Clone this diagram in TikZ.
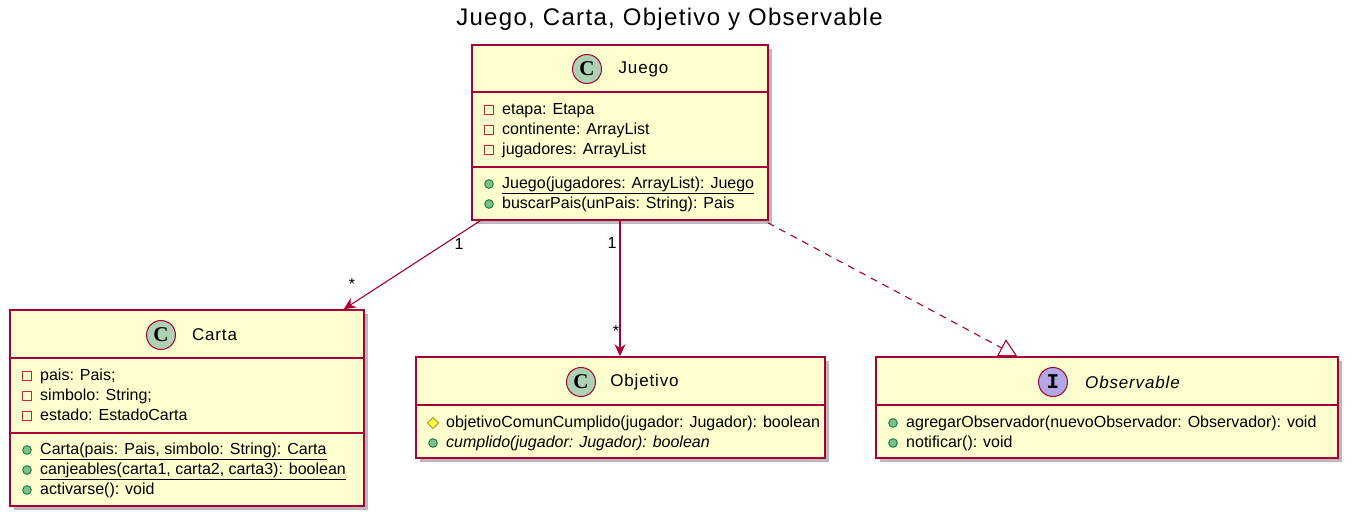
\documentclass[tikz,border=0pt]{standalone}
\usepackage{fontspec}
\setmainfont{Liberation Sans}
\newfontfamily\namefont[LetterSpace=5]{Liberation Sans}
\newfontfamily\titlefont[LetterSpace=5.5]{Liberation Sans}
\newfontfamily\stereofont{Liberation Serif}
\newfontfamily\stereomono{Liberation Mono}
\usetikzlibrary{arrows.meta,shadows,calc}
\definecolor{boxfill}{HTML}{FEFECE}
\definecolor{boxline}{HTML}{A80036}
\definecolor{cfill}{HTML}{ADD1B2}
\definecolor{ifill}{HTML}{B4A7E5}
\definecolor{privline}{HTML}{C82930}
\definecolor{pubfill}{HTML}{84BE84}
\definecolor{publine}{HTML}{038048}
\definecolor{protfill}{HTML}{FFFF44}
\definecolor{protline}{HTML}{B38D22}
\newcommand\umlmem[5]{%
  \pic at ({#2+17},#3) {#4};
  \node[member] (#1) at ({#2+30},#3) {#5};
}
\begin{document}
\begin{tikzpicture}[x=1pt,y=-1pt,
  classbox/.style={draw=boxline, fill=boxfill, line width=1.5pt, inner sep=0pt,
    drop shadow={shadow xshift=4pt, shadow yshift=-4pt, fill=black!60, opacity=0.45}},
  sepline/.style={draw=boxline, line width=1.5pt},
  member/.style={anchor=west, inner sep=0pt, text height=11.5pt, text depth=3.5pt,
    font=\fontsize{16}{19}\selectfont},
  cname/.style={inner sep=0pt, font=\namefont\fontsize{17}{20}\selectfont},
  cbadge/.style={circle, draw=boxline, fill=cfill, line width=1pt, minimum size=29pt, inner sep=0pt,
    font=\stereofont\bfseries\fontsize{21}{21}\selectfont},
  ibadge/.style={circle, draw=boxline, fill=ifill, line width=1pt, minimum size=29pt, inner sep=0pt,
    font=\stereomono\bfseries\fontsize{21}{21}\selectfont},
  lbl/.style={inner sep=0pt, font=\fontsize{16}{18}\selectfont},
  assoc/.style={draw=boxline, line width=1.1pt, -{Stealth[length=12pt, width=11pt, inset=4pt]}},
  realiz/.style={draw=boxline, line width=1.1pt, dash pattern=on 7pt off 6pt,
    -{Triangle[open, length=18pt, width=19pt, line width=1.1pt]}},
  priv/.pic={\draw[privline, line width=1pt] (-4.5,-4.5) rectangle (4.5,4.5);},
  pub/.pic={\draw[publine, fill=pubfill, line width=0.9pt] (0,0) circle (4.3);},
  prot/.pic={\draw[protline, fill=protfill, line width=0.9pt] (0,-5.5) -- (5.5,0) -- (0,5.5) -- (-5.5,0) -- cycle;}
]
\useasboundingbox (0,0) rectangle (1358,525);

% title
\node[inner sep=0pt, font=\titlefont\fontsize{24}{28}\selectfont] (title) at (669.5,19) {Juego, Carta, Objetivo y Observable};

% class boxes
\node[classbox, minimum width=296pt, minimum height=175pt] (juego) at (620,132.5) {};
\node[classbox, minimum width=354pt, minimum height=196pt] (carta) at (187,408) {};
\node[classbox, minimum width=409pt, minimum height=101pt] (objetivo) at (620.5,407.5) {};
\node[classbox, minimum width=462pt, minimum height=101pt] (observable) at (1107,407.5) {};

% separators
\draw[sepline] (472,92) -- (768,92);
\draw[sepline] (472,167) -- (768,167);
\draw[sepline] (10,358) -- (364,358);
\draw[sepline] (10,433) -- (364,433);
\draw[sepline] (416,405) -- (825,405);
\draw[sepline] (876,405) -- (1338,405);

% headers
\node[cbadge] (juegoC) at (587,69) {C};
\node[cname] (juegoN) at (643.5,69) {Juego};
\node[cbadge] (cartaC) at (161,335) {C};
\node[cname] (cartaN) at (214.5,335) {Carta};
\node[cbadge] (objetivoC) at (581,382) {C};
\node[cname] (objetivoN) at (644.5,382) {Objetivo};
\node[ibadge] (observableI) at (1053,382) {I};
\node[cname, font=\namefont\itshape\fontsize{17}{20}\selectfont] (observableN) at (1132.5,382) {Observable};

% members of Juego
\umlmem{j1}{472}{110}{priv}{etapa: Etapa}
\umlmem{j2}{472}{130}{priv}{continente: ArrayList}
\umlmem{j3}{472}{150}{priv}{jugadores: ArrayList}
\umlmem{j4}{472}{184}{pub}{\underline{Juego(jugadores: ArrayList): Juego}}
\umlmem{j5}{472}{204}{pub}{buscarPais(unPais: String): Pais}

% members of Carta
\umlmem{c1}{10}{376}{priv}{pais: Pais;}
\umlmem{c2}{10}{396}{priv}{simbolo: String;}
\umlmem{c3}{10}{416}{priv}{estado: EstadoCarta}
\umlmem{c4}{10}{450}{pub}{\underline{Carta(pais: Pais, simbolo: String): Carta}}
\umlmem{c5}{10}{470}{pub}{\underline{canjeables(carta1, carta2, carta3): boolean}}
\umlmem{c6}{10}{490}{pub}{activarse(): void}

% members of Objetivo
\umlmem{o1}{416}{423}{prot}{objetivoComunCumplido(jugador: Jugador): boolean}
\umlmem{o2}{416}{443}{pub}{\itshape cumplido(jugador: Jugador): boolean}

% members of Observable
\umlmem{b1}{876}{423}{pub}{agregarObservador(nuevoObservador: Observador): void}
\umlmem{b2}{876}{443}{pub}{notificar(): void}

% connectors
\draw[assoc] ($(juego.south west)+(9,0)$) -- ($(carta.north east)+(-21,0)$);
\draw[assoc] (juego.south) -- (juego.south |- objetivo.north);
\draw[realiz] ($(juego.south east)+(-1,2)$) -- ($(observable.north west)+(142,0)$);

% multiplicities
\node[lbl] (m1) at (459,244) {1};
\node[lbl] (m2) at (352,284) {*};
\node[lbl] (m3) at (612,243) {1};
\node[lbl] (m4) at (616,331) {*};
\end{tikzpicture}
\end{document}
